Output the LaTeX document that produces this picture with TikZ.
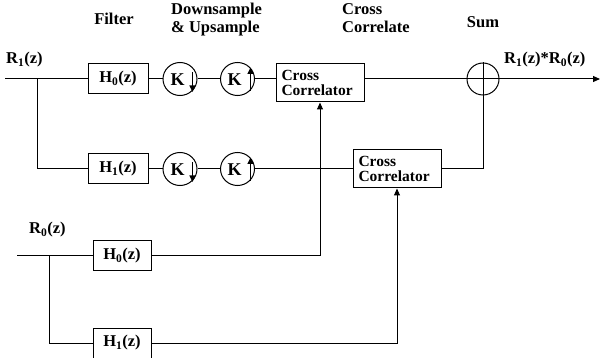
\documentclass[tikz,border=0pt]{standalone}
\usepackage{fontspec}
\setmainfont{Liberation Serif}
\usetikzlibrary{arrows.meta,shapes.geometric,calc}
\newcommand\sbx[1]{\textsubscript{#1}}
\begin{document}
\begin{tikzpicture}[x=1pt,y=-1pt,
  every node/.style={font=\bfseries\fontsize{16.5}{18}\selectfont, inner sep=0pt},
  blk/.style={draw, line width=1pt, minimum width=60pt, minimum height=30pt},
  ccbox/.style={draw, line width=1pt, minimum width=88pt, minimum height=38pt, align=left,
    font=\bfseries\fontsize{15.5}{15.5}\selectfont, text width=77pt},
  rs/.style={draw, line width=1pt, ellipse, minimum width=34pt, minimum height=33pt},
  ktext/.style={font=\bfseries\fontsize{18}{18}\selectfont},
  sumc/.style={draw, line width=1pt, circle, minimum size=32pt},
  wire/.style={line width=1pt},
  arr/.style={wire,-{Triangle[length=7pt,width=6pt]}},
  karr/.style={line width=1.3pt,-{Triangle[length=6.5pt,width=6pt]}},
  hdr/.style={align=left, anchor=west}
]
\useasboundingbox (0,0) rectangle (600,358);

% headers
\node (hf) at (114,19) {Filter};
\node[hdr] (hd) at (171,20) {Downsample\\\& Upsample};
\node[hdr] (hc) at (342,18) {Cross\\Correlate};
\node (hs) at (483,22) {Sum};

% input labels
\node[anchor=west] (r1) at (6,60) {R\sbx{1}(z)};
\node[anchor=west] (r0) at (29,230) {R\sbx{0}(z)};
\node[anchor=west] (rout) at (504,60) {R\sbx{1}(z)*R\sbx{0}(z)};

% row 1
\coordinate (in1) at (5,79);
\coordinate (b1) at (37,79);
\node[blk] (h0a) at (118,79) {H\sbx{0}(z)};
\node[rs] (kd1) at (180,79) {};
\node[rs] (ku1) at (237.5,79) {};
\node[ccbox] (cc1) at (320,83) {Cross\\Correlator};
\node[sumc] (sum) at (483,79) {};
\coordinate (out) at (600,79);

% row 2
\coordinate (b1d) at (37,169);
\node[blk] (h1a) at (118,169) {H\sbx{1}(z)};
\node[rs] (kd2) at (180,169) {};
\node[rs] (ku2) at (237.5,169) {};
\node[ccbox] (cc2) at (397,169) {Cross\\Correlator};

% R0 part
\coordinate (in0) at (17,256);
\coordinate (b0) at (49,256);
\node[blk, minimum width=58pt] (h0b) at (122,256) {H\sbx{0}(z)};
\coordinate (b0d) at (49,343);
\node[blk, minimum width=58pt] (h1b) at (122,343) {H\sbx{1}(z)};

% K symbols
\foreach \c in {kd1,kd2}{
  \node[ktext] at ($(\c.center)+(-2.5,0.5)$) {K};
  \draw[karr] ($(\c.center)+(12.5,-6.5)$) -- ($(\c.center)+(12.5,13)$);
}
\foreach \c in {ku1,ku2}{
  \node[ktext] at ($(\c.center)+(-3,0.5)$) {K};
  \draw[karr] ($(\c.center)+(13,12)$) -- ($(\c.center)+(13,-11.5)$);
}

% sum plus
\draw[wire] (sum.north) -- (sum.south);
\draw[wire] (sum.west) -- (sum.east);

% wires row 1
\draw[wire] (in1) -- (h0a.west);
\draw[wire] (h0a.east) -- (kd1.west);
\draw[wire] (kd1.east) -- (ku1.west);
\draw[wire] (ku1.east) -- (ku1.east -| cc1.west);
\draw[wire] (cc1.east |- sum.west) -- (sum.west);
\draw[arr] (sum.east) -- (out);

% wires row 2
\draw[wire] (b1) -- (b1d) -- (h1a.west);
\draw[wire] (h1a.east) -- (kd2.west);
\draw[wire] (kd2.east) -- (ku2.west);
\draw[wire] (ku2.east) -- (ku2.east -| cc2.west);
\draw[wire] (cc2.east) -- (cc2.east -| sum.south) -- (sum.south);

% R0 wires
\draw[wire] (in0) -- (h0b.west);
\draw[arr] (h0b.east) -- (h0b.east -| cc1.south) -- (cc1.south);
\draw[wire] (b0) -- (b0d) -- (h1b.west);
\draw[arr] (h1b.east) -- (h1b.east -| cc2.south) -- (cc2.south);
\end{tikzpicture}
\end{document}
